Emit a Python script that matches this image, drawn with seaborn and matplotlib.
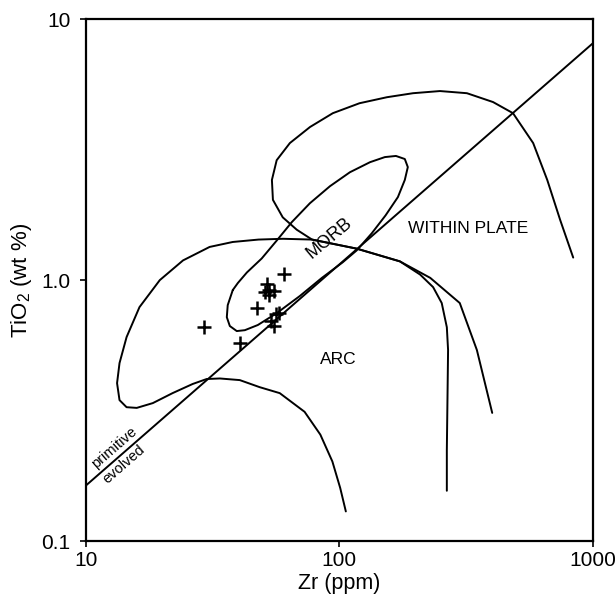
import matplotlib
matplotlib.use("Agg")
import matplotlib.pyplot as plt
import seaborn as sns

# discrimination field outlines (Zr ppm, TiO2 wt %)
arc_zr = [106, 100.7, 93.8, 84.1, 72.9, 58.2, 48.5, 40.5, 33.8, 30.0, 26.4, 22.0,
          18.4, 15.9, 14.5, 13.6, 13.3, 13.6, 14.5, 16.3, 19.6, 24.2, 30.8, 38.0,
          48, 60, 78, 117, 173, 208, 234, 253, 265, 268, 267, 265, 265]
arc_ti = [0.13, 0.160, 0.202, 0.256, 0.313, 0.369, 0.389, 0.414, 0.42, 0.418, 0.40, 0.369,
          0.338, 0.324, 0.326, 0.347, 0.403, 0.481, 0.605, 0.788, 1.00, 1.19, 1.34, 1.40,
          1.43, 1.44, 1.43, 1.32, 1.18, 1.05, 0.94, 0.817, 0.66, 0.54, 0.40, 0.223, 0.156]

wpl_zr = [834, 741, 659, 580, 483, 403, 318, 249, 195, 154, 120, 94.2, 76.6, 63.8,
          56.6, 54.2, 54.7, 59.8, 67.9, 78, 117, 173, 228, 298, 348, 400]
wpl_ti = [1.22, 1.70, 2.42, 3.35, 4.36, 4.81, 5.20, 5.30, 5.20, 5.02, 4.76, 4.36, 3.86, 3.35,
          2.88, 2.42, 2.03, 1.74, 1.56, 1.43, 1.32, 1.18, 1.02, 0.817, 0.54, 0.31]

morb_zr = [38.0, 36.3, 36.0, 37.0, 39.4, 42.4, 47.7, 56.7, 69.8, 85.3, 103, 117, 134, 152,
           170, 181, 186, 181, 167, 151, 132, 110, 91.8, 76.5, 65.0, 56.7, 49.4, 43.2, 39.8, 38.0]
morb_ti = [0.916, 0.802, 0.721, 0.667, 0.638, 0.643, 0.673, 0.748, 0.869, 1.02, 1.17, 1.30, 1.51, 1.77,
           2.08, 2.42, 2.71, 2.91, 2.99, 2.96, 2.83, 2.59, 2.29, 1.97, 1.67, 1.42, 1.21, 1.07, 0.975, 0.916]

# primitive / evolved dividing line
div_zr = [10, 1000]
div_ti = [0.163, 8.1]

# samples
sample_zr = [29.4, 40.5, 47.5, 60.5, 52, 53, 51, 55, 53, 56, 58, 54, 55]
sample_ti = [0.66, 0.574, 0.78, 1.06, 0.97, 0.92, 0.90, 0.91, 0.88, 0.74, 0.75, 0.70, 0.67]

sns.set_style("ticks")
plt.rcParams['font.family'] = ['Liberation Sans', 'DejaVu Sans']
plt.rcParams['mathtext.fontset'] = 'custom'
plt.rcParams['mathtext.rm'] = 'Liberation Sans'
for k in ['text.color', 'axes.labelcolor', 'xtick.color', 'ytick.color', 'axes.edgecolor']:
    plt.rcParams[k] = 'black'

fig = plt.figure(figsize=(6.16, 5.96), dpi=100)
ax = fig.add_axes([0.139, 0.092, 0.824, 0.876])

lw = 1.4
for xs, ys in [(arc_zr, arc_ti), (wpl_zr, wpl_ti), (morb_zr, morb_ti), (div_zr, div_ti)]:
    sns.lineplot(x=xs, y=ys, sort=False, estimator=None, color='black', linewidth=lw, ax=ax)

sns.scatterplot(x=sample_zr, y=sample_ti, marker='+', s=95, color='black',
                linewidth=1.8, ax=ax, zorder=5)

ax.set_xscale('log')
ax.set_yscale('log')
ax.set_xlim(10, 1000)
ax.set_ylim(0.1, 10)
ax.set_xticks([10, 100, 1000])
ax.set_xticklabels(['10', '100', '1000'])
ax.set_yticks([0.1, 1, 10])
ax.set_yticklabels(['0.1', '1.0', '10'])
ax.minorticks_off()
ax.tick_params(axis='both', length=4, width=1.2, labelsize=15)
ax.tick_params(axis='y', pad=7)
ax.tick_params(axis='x', pad=3)
for s in ax.spines.values():
    s.set_linewidth(1.6)

ax.set_xlabel('Zr (ppm)', fontsize=15.5, labelpad=2)
ax.set_ylabel(r'TiO$_2$ (wt %)', fontsize=16, labelpad=5)

ax.text(91, 1.45, 'MORB', rotation=40, ha='center', va='center', fontsize=13)
ax.text(321, 1.58, 'WITHIN PLATE', ha='center', va='center', fontsize=12.5)
ax.text(99, 0.495, 'ARC', ha='center', va='center', fontsize=12.5)
ax.text(13.0, 0.228, 'primitive', rotation=41, ha='center', va='center', fontsize=10.5)
ax.text(14.1, 0.197, 'evolved', rotation=41, ha='center', va='center', fontsize=10.5)

fig.savefig('out.png', dpi=100)
